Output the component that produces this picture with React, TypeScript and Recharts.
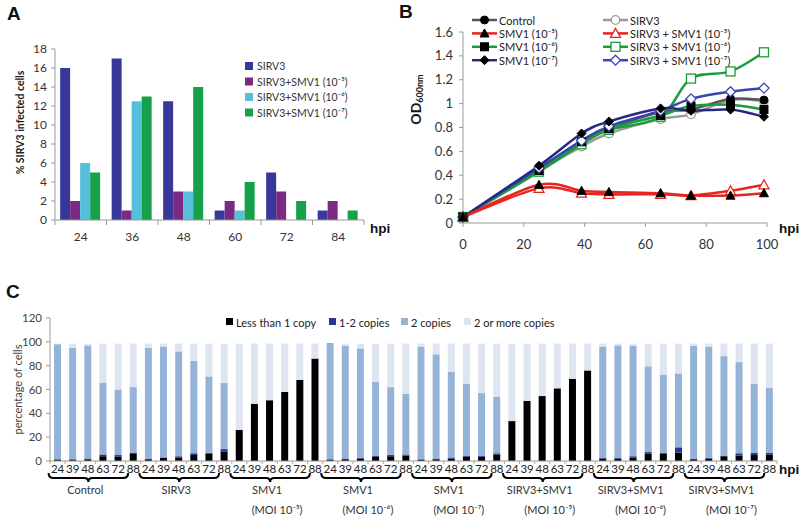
import React from 'react';
import { BarChart, Bar, LineChart, Line, XAxis, YAxis } from 'recharts';

const FONT = 'Lato, "Liberation Sans", Arial, sans-serif';

// ---------- A: % SIRV3 infected cells
const hpiA = ['24', '36', '48', '60', '72', '84'];
const sirv3Pct = [16, 17, 12.5, 1, 5, 1];
const mix5Pct = [2, 1, 3, 2, 3, 2];
const mix6Pct = [6, 12.5, 3, 1, 0, 0];
const mix7Pct = [5, 13, 14, 4, 2, 1];

// ---------- B: OD600 growth curves
const hpiB = [0, 25, 39, 48, 65, 75, 88, 99];
const odControl = [0.05, 0.46, 0.67, 0.79, 0.93, 0.95, 1.04, 1.03];
const odSirv3 = [0.05, 0.44, 0.64, 0.75, 0.87, 0.91, 1.03, 1.02];
const odSmv5 = [0.05, 0.32, 0.27, 0.26, 0.25, 0.23, 0.23, 0.25];
const odMix5 = [0.05, 0.29, 0.25, 0.24, 0.24, 0.23, 0.27, 0.32];
const odSmv6 = [0.05, 0.44, 0.68, 0.79, 0.9, 0.98, 0.99, 0.95];
const odMix6 = [0.05, 0.43, 0.66, 0.78, 0.89, 1.21, 1.27, 1.43];
const odSmv7 = [0.05, 0.48, 0.75, 0.85, 0.96, 0.94, 0.95, 0.89];
const odMix7 = [0.05, 0.46, 0.69, 0.81, 0.94, 1.04, 1.1, 1.13];

// ---------- C: copies per cell
const hoursC = ['24', '39', '48', '63', '72', '88'];
const groupsC = [
  ['Control', ''],
  ['SIRV3', ''],
  ['SMV1', '(MOI 10⁻⁵)'],
  ['SMV1', '(MOI 10⁻⁶)'],
  ['SMV1', '(MOI 10⁻⁷)'],
  ['SIRV3+SMV1', '(MOI 10⁻⁵)'],
  ['SIRV3+SMV1', '(MOI 10⁻⁶)'],
  ['SIRV3+SMV1', '(MOI 10⁻⁷)'],
];
const lessThan1 = [
  1, 1, 1.5, 4, 3.5, 6.5,
  1.5, 2.5, 3, 5, 6, 8,
  26, 48, 51, 58, 68, 86,
  1, 1.5, 2, 3.5, 4, 4.5,
  1, 1.5, 2, 3.5, 3.5, 5.5,
  33.5, 50.5, 54.5, 61, 69, 76,
  2, 2, 3, 6, 6, 7,
  1.5, 2, 4, 4.5, 5, 5.5,
];
const copies12 = [
  0.5, 0.5, 0.5, 1.5, 1.5, 0.5,
  0.5, 0.5, 1, 1.5, 1, 2,
  0, 0, 0, 0, 0, 0,
  0.5, 0.5, 0.5, 1, 1, 1,
  0.5, 0.5, 1, 1, 1, 1,
  0, 0, 0, 0, 0, 0,
  0.5, 0.5, 1, 1.5, 1, 4.5,
  0.5, 0.5, 0.5, 2, 2, 1.5,
];
const copies2 = [
  96.5, 93.5, 95, 60, 55, 55,
  93, 93, 88, 77.5, 64, 55.5,
  0, 0, 0, 0, 0, 0,
  97.5, 94.5, 92, 62, 57, 51,
  94.5, 87.5, 72, 60.5, 52.5, 47.5,
  0, 0, 0, 0, 0, 0,
  93.5, 94.5, 92.5, 72, 65.5, 62,
  94.5, 93.5, 83.5, 76.5, 58, 54.5,
];
const copiesMore = [
  0.5, 3.5, 1.5, 33, 38.5, 36.5,
  3.5, 2.5, 6.5, 14.5, 27.5, 33,
  72.5, 50.5, 47.5, 40.5, 30.5, 12.5,
  0, 2, 4, 32, 36.5, 42,
  2.5, 9, 23.5, 33.5, 41.5, 44.5,
  65, 48, 44, 37.5, 29.5, 22.5,
  2.5, 1.5, 2, 19, 26, 25,
  2, 2.5, 10.5, 15.5, 33.5, 37,
];

const dataA = hpiA.map((h, i) => ({
  hpi: h,
  sirv3: sirv3Pct[i],
  mix5: mix5Pct[i],
  mix6: mix6Pct[i],
  mix7: mix7Pct[i],
}));

const dataB = hpiB.map((h, i) => ({
  hpi: h,
  control: odControl[i],
  sirv3: odSirv3[i],
  smv5: odSmv5[i],
  mix5: odMix5[i],
  smv6: odSmv6[i],
  mix6: odMix6[i],
  smv7: odSmv7[i],
  mix7: odMix7[i],
}));

const dataC = lessThan1.map((v, i) => ({
  hpi: hoursC[i % 6],
  less: v,
  c12: copies12[i],
  c2: copies2[i],
  more: copiesMore[i],
}));

const seriesA = [
  { key: 'sirv3', name: 'SIRV3', color: '#38389a' },
  { key: 'mix5', name: 'SIRV3+SMV1 (10⁻⁵)', color: '#7a2a82' },
  { key: 'mix6', name: 'SIRV3+SMV1 (10⁻⁶)', color: '#56bfdc' },
  { key: 'mix7', name: 'SIRV3+SMV1 (10⁻⁷)', color: '#17a04a' },
];

const RED = '#e4261e';
const GREEN = '#1c9b3c';
const NAVY = '#272a84';
const BLUE = '#3a45ad';

// drawn in this order
const seriesB = [
  { key: 'sirv3', name: 'SIRV3', color: '#9a9a9a', shape: 'circle', open: true },
  { key: 'control', name: 'Control', color: '#555', shape: 'circle', open: false },
  { key: 'mix6', name: 'SIRV3 + SMV1 (10⁻⁶)', color: GREEN, shape: 'square', open: true },
  { key: 'smv6', name: 'SMV1 (10⁻⁶)', color: GREEN, shape: 'square', open: false },
  { key: 'mix7', name: 'SIRV3 + SMV1 (10⁻⁷)', color: BLUE, shape: 'diamond', open: true },
  { key: 'smv7', name: 'SMV1 (10⁻⁷)', color: NAVY, shape: 'diamond', open: false },
  { key: 'mix5', name: 'SIRV3 + SMV1 (10⁻⁵)', color: RED, shape: 'triangle', open: true },
  { key: 'smv5', name: 'SMV1 (10⁻⁵)', color: RED, shape: 'triangle', open: false },
];
const legendLeftB = ['control', 'smv5', 'smv6', 'smv7'];
const legendRightB = ['sirv3', 'mix5', 'mix6', 'mix7'];

const seriesC = [
  { key: 'less', name: 'Less than 1 copy', color: '#000000' },
  { key: 'c12', name: '1-2 copies', color: '#283593' },
  { key: 'c2', name: '2 copies', color: '#95b3d7' },
  { key: 'more', name: '2 or more copies', color: '#dde5f0' },
];

// Excel-like smoothed line (Catmull-Rom through the points)
function smoothCurve(context: any) {
  let pts: number[][] = [];
  return {
    areaStart() {},
    areaEnd() {},
    lineStart() {
      pts = [];
    },
    point(x: number, y: number) {
      pts.push([+x, +y]);
    },
    lineEnd() {
      if (!pts.length) return;
      context.moveTo(pts[0][0], pts[0][1]);
      for (let i = 0; i < pts.length - 1; i++) {
        const p0 = pts[Math.max(i - 1, 0)];
        const p1 = pts[i];
        const p2 = pts[i + 1];
        const p3 = pts[Math.min(i + 2, pts.length - 1)];
        context.bezierCurveTo(
          p1[0] + (p2[0] - p0[0]) / 6,
          p1[1] + (p2[1] - p0[1]) / 6,
          p2[0] - (p3[0] - p1[0]) / 6,
          p2[1] - (p3[1] - p1[1]) / 6,
          p2[0],
          p2[1]
        );
      }
    },
  };
}

function Marker({ cx, cy, shape, open, color }: any) {
  const fill = open ? '#fff' : '#000';
  const stroke = open ? color : '#000';
  const sw = open ? 1.3 : 1;
  if (shape === 'triangle') {
    const r = open ? 5 : 4.5;
    return (
      <polygon
        points={`${cx},${cy - r} ${cx + r},${cy + r * 0.8} ${cx - r},${cy + r * 0.8}`}
        fill={fill}
        stroke={stroke}
        strokeWidth={sw}
      />
    );
  }
  if (shape === 'square') {
    const r = open ? 4.5 : 4;
    return <rect x={cx - r} y={cy - r} width={r * 2} height={r * 2} fill={fill} stroke={stroke} strokeWidth={sw} />;
  }
  if (shape === 'diamond') {
    const r = open ? 5 : 4.5;
    return (
      <polygon
        points={`${cx},${cy - r} ${cx + r},${cy} ${cx},${cy + r} ${cx - r},${cy}`}
        fill={fill}
        stroke={stroke}
        strokeWidth={sw}
      />
    );
  }
  return <circle cx={cx} cy={cy} r={open ? 4.3 : 4} fill={fill} stroke={stroke} strokeWidth={sw} />;
}

const BAND_A = (400 - 55 - 36) / 6;
const BAND_C = (800 - 50 - 23) / 48;

function TickA({ x, y, payload, index }: any) {
  const h = BAND_A / 2;
  return (
    <g>
      <line x1={x - h} x2={x - h} y1={y} y2={y + 5} stroke="#999" />
      {index === hpiA.length - 1 && <line x1={x + h} x2={x + h} y1={y} y2={y + 5} stroke="#999" />}
      <text x={x} y={y + 21} textAnchor="middle" fontSize={12} fill="#333" fontFamily={FONT}>
        {payload.value}
      </text>
    </g>
  );
}

function TickC({ x, y, payload, index }: any) {
  const pos = index % 6;
  const g = Math.floor(index / 6);
  const h = BAND_C / 2;
  let group = null;
  if (pos === 0) {
    const x1 = x - 9;
    const x2 = x + 4 * BAND_C + 10;
    const mid = (x1 + x2) / 2;
    const by = y + 17;
    const d = `M${x1},${by - 5} Q${x1},${by} ${x1 + 5},${by} L${mid - 4},${by} Q${mid},${by} ${mid},${by + 4} Q${mid},${by} ${mid + 4},${by} L${x2 - 5},${by} Q${x2},${by} ${x2},${by - 5}`;
    group = (
      <g>
        <path d={d} fill="none" stroke="#000" strokeWidth={2} />
        <text x={mid - 3} y={y + 33} textAnchor="middle" fontSize={11} fill="#333" fontFamily={FONT}>
          {groupsC[g][0]}
        </text>
        {groupsC[g][1] && (
          <text x={mid + 7} y={y + 53} textAnchor="middle" fontSize={11} fill="#333" fontFamily={FONT}>
            {groupsC[g][1]}
          </text>
        )}
      </g>
    );
  }
  return (
    <g>
      <line x1={x - h} x2={x - h} y1={y} y2={y + 3} stroke="#c9a27a" />
      {index === dataC.length - 1 && <line x1={x + h} x2={x + h} y1={y} y2={y + 3} stroke="#c9a27a" />}
      <text x={x} y={y + 12} textAnchor="middle" fontSize={11.5} fill="#222" fontFamily={FONT}>
        {payload.value}
      </text>
      {group}
    </g>
  );
}

const vTitle =
  (content: React.ReactNode, dx: number, dy: number, style: any) =>
  ({ viewBox }: any) => {
    const cx = viewBox.x + dx;
    const cy = viewBox.y + viewBox.height / 2 + dy;
    return (
      <text
        x={cx}
        y={cy}
        transform={`rotate(-90 ${cx} ${cy})`}
        textAnchor="middle"
        dominantBaseline="central"
        fontFamily={FONT}
        {...style}
      >
        {content}
      </text>
    );
  };

const hpiTitle =
  (dx: number, dy: number) =>
  ({ viewBox }: any) => (
    <text
      x={viewBox.x + viewBox.width + dx}
      y={viewBox.y + dy}
      fontSize={13.5}
      fontWeight="bold"
      fill="#111"
      fontFamily='"Liberation Sans", Arial, sans-serif'
      dominantBaseline="central"
    >
      hpi
    </text>
  );

const panelLetter = (letter: string, left: number, top: number) => (
  <div
    style={{
      position: 'absolute',
      left,
      top,
      fontFamily: '"Liberation Sans", Arial, sans-serif',
      fontWeight: 'bold',
      fontSize: 19,
      lineHeight: '19px',
      color: '#111',
    }}
  >
    {letter}
  </div>
);

function LegendA() {
  return (
    <svg style={{ position: 'absolute', left: 240, top: 55 }} width={140} height={70}>
      {seriesA.map((s, i) => (
        <g key={s.key}>
          <rect x={5} y={7 + i * 15.5} width={8} height={8} fill={s.color} />
          <text x={17} y={11 + i * 15.5} dominantBaseline="central" fontSize={10.5} fill="#333" fontFamily={FONT}>
            {s.name}
          </text>
        </g>
      ))}
    </svg>
  );
}

function LegendB() {
  const col = (keys: string[], x0: number) =>
    keys.map((k, i) => {
      const s = seriesB.find((t) => t.key === k)!;
      const y = 20 + i * 13.4;
      return (
        <g key={k}>
          <line x1={x0} x2={x0 + 25} y1={y} y2={y} stroke={s.color} strokeWidth={2.5} />
          <Marker cx={x0 + 12.5} cy={y} shape={s.shape} open={s.open} color={s.color} />
          <text x={x0 + 27} y={y} dominantBaseline="central" fontSize={11} fill="#222" fontFamily={FONT}>
            {s.name}
          </text>
        </g>
      );
    });
  return (
    <svg style={{ position: 'absolute', left: 0, top: 0 }} width={800} height={80}>
      {col(legendLeftB, 472)}
      {col(legendRightB, 603)}
    </svg>
  );
}

function LegendC() {
  const xs = [226, 329, 401, 464];
  return (
    <svg style={{ position: 'absolute', left: 0, top: 312 }} width={800} height={20}>
      {seriesC.map((s, i) => (
        <g key={s.key}>
          <rect x={xs[i]} y={6} width={7} height={7} fill={s.color} />
          <text x={xs[i] + 10} y={10} dominantBaseline="central" fontSize={11} fill="#222" fontFamily={FONT}>
            {s.name}
          </text>
        </g>
      ))}
    </svg>
  );
}

export default function App() {
  return (
    <div
      style={{
        position: 'absolute',
        left: 0,
        top: 0,
        width: 800,
        height: 519,
        background: '#fff',
        fontFamily: FONT,
        overflow: 'hidden',
      }}
    >
      {/* A */}
      <div style={{ position: 'absolute', left: 0, top: 0 }}>
        <BarChart
          width={400}
          height={260}
          data={dataA}
          margin={{ top: 49, right: 36, left: 15, bottom: 10 }}
          barCategoryGap="10%"
          barGap={0}
        >
          <XAxis
            dataKey="hpi"
            height={30}
            interval={0}
            tickLine={false}
            tickSize={0}
            tickMargin={0}
            stroke="#999"
            tick={<TickA />}
            label={hpiTitle(6, 8)}
          />
          <YAxis
            domain={[0, 18]}
            ticks={[0, 2, 4, 6, 8, 10, 12, 14, 16, 18]}
            interval={0}
            width={40}
            tickSize={4}
            tickMargin={4}
            stroke="#999"
            tick={{ fill: '#333', fontSize: 12, fontFamily: FONT }}
            label={vTitle('% SIRV3 infected cells', 5, -12, { fontSize: 10.5, fontWeight: 'bold', fill: '#222' })}
          />
          {seriesA.map((s) => (
            <Bar key={s.key} dataKey={s.key} name={s.name} fill={s.color} isAnimationActive={false} />
          ))}
        </BarChart>
      </div>
      <LegendA />

      {/* B */}
      <div style={{ position: 'absolute', left: 400, top: 0 }}>
        <LineChart width={400} height={260} data={dataB} margin={{ top: 32, right: 33, left: 20, bottom: 7 }}>
          <XAxis
            dataKey="hpi"
            type="number"
            domain={[0, 100]}
            ticks={[0, 20, 40, 60, 80, 100]}
            interval={0}
            height={30}
            tickSize={4}
            tickMargin={13}
            stroke="#999"
            tick={{ fill: '#333', fontSize: 13, fontFamily: FONT }}
            label={hpiTitle(12, 5)}
          />
          <YAxis
            domain={[0, 1.6]}
            ticks={[0, 0.2, 0.4, 0.6, 0.8, 1, 1.2, 1.4, 1.6]}
            interval={0}
            tickFormatter={(v: number) => String(+v.toFixed(1))}
            width={43}
            tickSize={4}
            tickMargin={6}
            stroke="#999"
            tick={{ fill: '#333', fontSize: 13, fontFamily: FONT }}
            label={vTitle(
              <>
                <tspan fontSize={14}>OD</tspan>
                <tspan fontSize={9} dy={4}>
                  600nm
                </tspan>
              </>,
              -5,
              -28,
              { fontWeight: 'bold', fill: '#111' }
            )}
          />
          {seriesB.map((s) => (
            <Line
              key={s.key}
              dataKey={s.key}
              name={s.name}
              type={smoothCurve as any}
              stroke={s.color}
              strokeWidth={2.5}
              isAnimationActive={false}
              dot={(p: any) => (
                <Marker key={`${s.key}-${p.index}`} cx={p.cx} cy={p.cy} shape={s.shape} open={s.open} color={s.color} />
              )}
              activeDot={false}
            />
          ))}
        </LineChart>
      </div>
      <LegendB />

      {/* C */}
      <div style={{ position: 'absolute', left: 0, top: 270 }}>
        <BarChart width={800} height={249} data={dataC} margin={{ top: 48, right: 23, left: 15, bottom: 3 }}>
          <XAxis
            dataKey="hpi"
            height={55}
            interval={0}
            tickLine={false}
            tickSize={0}
            tickMargin={0}
            stroke="#999"
            tick={<TickC />}
            label={hpiTitle(2, 8)}
          />
          <YAxis
            domain={[0, 120]}
            ticks={[0, 20, 40, 60, 80, 100, 120]}
            interval={0}
            width={35}
            tickSize={4}
            tickMargin={4}
            stroke="#999"
            tick={{ fill: '#444', fontSize: 11.5, fontFamily: FONT }}
            label={vTitle('percentage of cells', 2, 0, { fontSize: 11, fill: '#444' })}
          />
          {seriesC.map((s) => (
            <Bar key={s.key} dataKey={s.key} name={s.name} stackId="c" fill={s.color} barSize={7} isAnimationActive={false} />
          ))}
        </BarChart>
      </div>
      <LegendC />

      {panelLetter('A', 7, 4)}
      {panelLetter('B', 399, 2)}
      {panelLetter('C', 6, 282)}
    </div>
  );
}
